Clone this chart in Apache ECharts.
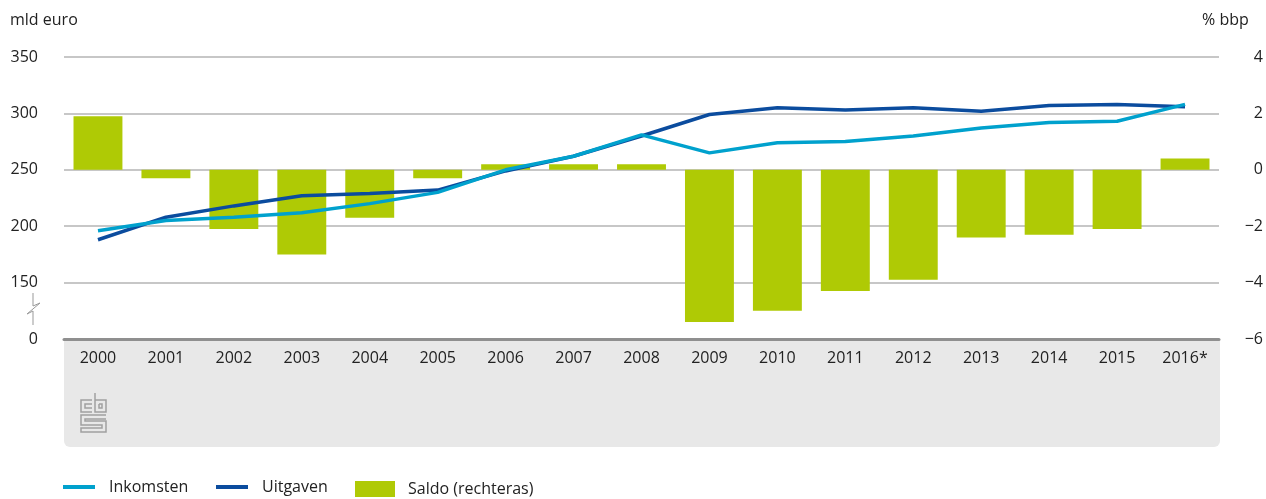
<!DOCTYPE html>
<html>
<head>
<meta charset="utf-8">
<script src="https://cdn.jsdelivr.net/npm/echarts@6/dist/echarts.min.js"></script>
<style>
  html, body { margin: 0; padding: 0; background: #fff; }
  #chart { width: 1266px; height: 499px; }
</style>
</head>
<body>
<div id="chart"></div>
<script>
const years = ['2000', '2001', '2002', '2003', '2004', '2005', '2006', '2007', '2008',
    '2009', '2010', '2011', '2012', '2013', '2014', '2015', '2016*'];

// mld euro (linkeras)
const inkomsten = [196, 205, 208, 212, 220, 230, 250, 262, 281,
    265, 274, 275, 280, 287, 292, 293, 308];
const uitgaven = [188, 208, 218, 227, 229, 232, 249, 262, 280,
    299, 305, 303, 305, 302, 307, 308, 306];

// % bbp (rechteras)
const saldo = [1.9, -0.3, -2.1, -3.0, -1.7, -0.3, 0.2, 0.2, 0.2,
    -5.4, -5.0, -4.3, -3.9, -2.4, -2.3, -2.1, 0.4];

const font = '"Open Sans", "Noto Sans", sans-serif';
const textColor = '#222';
const lightBlue = '#00a1cd';
const darkBlue = '#0b4c9e';
const green = '#afca05';
const logoStroke = '#a0a0a0';

const chart = echarts.init(document.getElementById('chart'));

chart.setOption({
    animation: false,
    textStyle: { fontFamily: font, color: textColor },
    grid: { left: 64, right: 46, top: 57, bottom: 160 },
    legend: [
        {
            data: ['Inkomsten'], left: 63, top: 479, padding: 0,
            icon: 'rect', itemWidth: 32, itemHeight: 4, selectedMode: false,
            textStyle: { fontSize: 16, color: textColor, fontFamily: font, padding: [0, 0, 0, 9] }
        },
        {
            data: ['Uitgaven'], left: 216, top: 479, padding: 0,
            icon: 'rect', itemWidth: 32, itemHeight: 4, selectedMode: false,
            textStyle: { fontSize: 16, color: textColor, fontFamily: font, padding: [0, 0, 0, 9] }
        },
        {
            data: ['Saldo (rechteras)'], left: 355, top: 481, padding: 0,
            icon: 'rect', itemWidth: 40, itemHeight: 16, selectedMode: false,
            textStyle: { fontSize: 16, color: textColor, fontFamily: font, padding: [6, 0, 0, 8] }
        }
    ],
    xAxis: {
        type: 'category',
        data: years,
        boundaryGap: true,
        axisLine: { onZero: false, lineStyle: { color: '#8f8f8f', width: 3 } },
        axisTick: { alignWithLabel: true, length: 6, lineStyle: { color: '#9a9a9a', width: 1 } },
        axisLabel: { fontSize: 16, color: textColor, margin: 11 }
    },
    yAxis: [
        {
            type: 'value',
            min: 100, max: 350, interval: 50,
            axisLine: { show: false },
            axisTick: { show: false },
            splitLine: { lineStyle: { color: '#b5b5b5', width: 1.5 } },
            axisLabel: {
                fontSize: 16, color: textColor, align: 'right', margin: 26,
                // onderbroken as: onderste lijn staat voor 0
                formatter: v => (v === 100 ? '0' : String(v))
            }
        },
        {
            type: 'value',
            position: 'right',
            min: -6, max: 4, interval: 2,
            axisLine: { show: false },
            axisTick: { show: false },
            splitLine: { show: false },
            axisLabel: {
                fontSize: 16, color: textColor, align: 'right', margin: 44,
                formatter: v => String(v).replace('-', '\u2212')
            }
        }
    ],
    graphic: [
        {
            type: 'rect', z: -10, silent: true,
            shape: { x: 64, y: 340, width: 1156, height: 107, r: [0, 0, 6, 6] },
            style: { fill: '#e8e8e8' }
        },
        {
            type: 'text', left: 10, top: 12,
            style: { text: 'mld euro', font: '16px ' + font, fill: textColor }
        },
        {
            type: 'text', left: 1202, top: 12,
            style: { text: '% bbp', font: '16px ' + font, fill: textColor }
        },
        {
            // asbreuk
            type: 'polyline', silent: true,
            shape: { points: [[33, 293], [33, 306], [40, 303], [27, 314], [33, 311], [33, 325]] },
            style: { stroke: '#999', lineWidth: 1, fill: null }
        },
        // cbs logo
        {
            type: 'polyline', silent: true,
            shape: { points: [[92, 400], [81, 400], [81, 412], [92, 412]] },
            style: { stroke: logoStroke, lineWidth: 1.5, fill: null }
        },
        {
            type: 'polyline', silent: true,
            shape: { points: [[92, 404], [85, 404], [85, 408], [92, 408]] },
            style: { stroke: logoStroke, lineWidth: 1.5, fill: null }
        },
        {
            type: 'polyline', silent: true,
            shape: { points: [[95, 393], [95, 412], [106, 412], [106, 400], [95, 400]] },
            style: { stroke: logoStroke, lineWidth: 1.5, fill: null }
        },
        {
            type: 'polyline', silent: true,
            shape: { points: [[99, 404], [102, 404], [102, 408], [99, 408], [99, 404]] },
            style: { stroke: logoStroke, lineWidth: 1.5, fill: null }
        },
        {
            type: 'polyline', silent: true,
            shape: { points: [[106, 415], [81, 415], [81, 425], [102, 425], [102, 428], [81, 428], [81, 432], [106, 432], [106, 421], [85, 421], [85, 419], [106, 419]] },
            style: { stroke: logoStroke, lineWidth: 1.5, fill: null }
        }
    ],
    series: [
        {
            name: 'Saldo (rechteras)',
            type: 'bar',
            yAxisIndex: 1,
            data: saldo,
            barCategoryGap: '28%',
            itemStyle: { color: green }
        },
        {
            name: 'Uitgaven',
            type: 'line',
            data: uitgaven,
            symbol: 'none',
            lineStyle: { color: darkBlue, width: 3.5 },
            itemStyle: { color: darkBlue }
        },
        {
            name: 'Inkomsten',
            type: 'line',
            data: inkomsten,
            symbol: 'none',
            lineStyle: { color: lightBlue, width: 3.5 },
            itemStyle: { color: lightBlue }
        }
    ]
});
</script>
</body>
</html>
